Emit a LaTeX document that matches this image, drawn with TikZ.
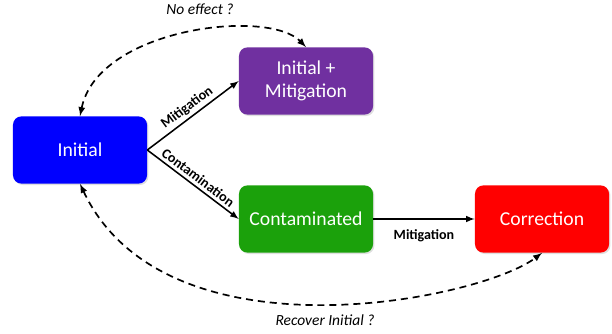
\documentclass[tikz,border=0pt]{standalone}
\usepackage{fontspec}
\setmainfont{Carlito}
\usetikzlibrary{arrows,positioning,shadows}
\definecolor{initblue}{HTML}{0000FF}
\definecolor{mitpurple}{HTML}{7030A0}
\definecolor{contgreen}{HTML}{1BA10B}
\definecolor{correred}{HTML}{FF0000}
\tikzset{
    state/.style={rounded corners=6pt,text=white,minimum width=3.35cm,minimum height=1.68cm,
      align=center,font=\fontsize{14}{16}\selectfont,drop shadow={opacity=0.25,shadow xshift=1pt,shadow yshift=-1pt}},
    arrow/.style={-latex, line width=1.1pt},
    maybe/.style={latex-latex, line width=1.2pt, dash pattern=on 5pt off 3.5pt},
    edgelabel/.style={font=\fontsize{10}{12}\selectfont\bfseries,inner sep=1pt},
    note/.style={font=\fontsize{11}{13}\selectfont\itshape}
}

\begin{document}
\begin{tikzpicture}[x=0.025cm,y=-0.025cm]
  \useasboundingbox (0,0) rectangle (612,334);
  \node[state,fill=initblue] (N1) at (80,150) {Initial};
  \node[state,fill=mitpurple] (N2) at (306,81) {Initial +\\Mitigation};
  \node[state,fill=contgreen] (N3) at (306,219) {Contaminated};
  \node[state,fill=correred] (N4) at (542,219) {Correction};

  \draw[arrow] (N1.east) -- node[edgelabel,sloped,above=1pt] {Mitigation} (N2.west);
  \draw[arrow] (N1.east) -- node[edgelabel,sloped,above=1pt] {Contamination} (N3.west);
  \draw[arrow] (N3) -- node[edgelabel,below=6pt] {Mitigation} (N4);

  \draw[maybe] (N1.north) .. controls (98,28) and (268,8) .. (N2.north);
  \draw[maybe] (N1.south) .. controls (165,364) and (480,300) .. (N4.south);

  \node[note] (E1) at (200,9) {No effect ?};
  \node[note] (E2) at (325,320) {Recover Initial ?};
\end{tikzpicture}
\end{document}
